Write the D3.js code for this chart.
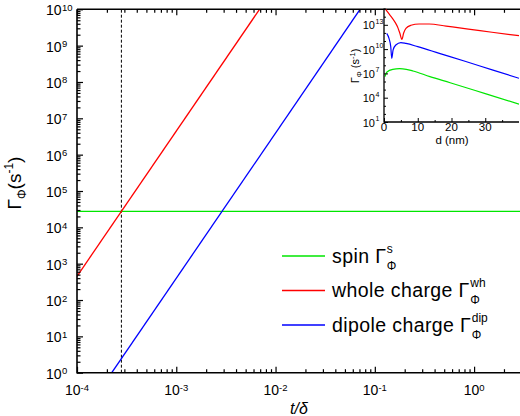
<!DOCTYPE html>
<html><head><meta charset="utf-8">
<script src="https://cdn.jsdelivr.net/npm/d3@7"></script>
<style>body{margin:0;background:#fff} svg text{font-family:"Liberation Sans",Arial,sans-serif;fill:#000}</style>
</head><body><svg id="c" width="520" height="416"></svg>
<script>
// ---- main chart data (t/δ, Γ in s^-1) ----
const tRed   = [1e-4, 6.9e-3];
const gRed   = [450, 1e10];
const tBlue  = [2.24e-4, 7.1e-2];
const gBlue  = [1, 1e10];
const tGreen = [1e-4, 2.9];
const gGreen = [2.75e4, 2.75e4];
const tCross = 2.8e-4;
const xTickExp = [-4, -3, -2, -1, 0];
const yTickExp = [0, 1, 2, 3, 4, 5, 6, 7, 8, 9, 10];
const legendNames = ["spin", "whole charge", "dipole charge"];
const legendSups  = ["s", "wh", "dip"];
const legendColors = ["#00e600", "#ff0000", "#0000ff"];

// ---- inset data (d in nm, Γ in s^-1) ----
const dRed  = [0.5, 1.5, 2.5, 3.3, 4.0, 4.7, 5.3, 5.8, 6.5, 8, 10.4, 13.4, 18.4, 25, 32, 40];
const vRed  = [7.9e14, 2.2e14, 6.3e13, 2e13, 5.9e12, 8.9e11, 1.6e11, 8.9e11, 3.7e12, 8.7e12, 1.26e13, 1.26e13, 6.8e12, 3e12, 1.2e12, 4.5e11];
const dBlue = [0.8, 1.5, 2.0, 2.3, 2.7, 3.5, 5, 6.5, 10, 16.4, 24, 32.3, 40];
const vBlue = [8.9e11, 2e11, 2e10, 7.2e8, 7.9e9, 3.2e10, 6.3e10, 5e10, 2e10, 3e9, 3.2e8, 2.5e7, 2.5e6];
const dGreen = [0.3, 0.8, 2.6, 4.6, 6.6, 8.6, 13.6, 19.6, 30, 40];
const vGreen = [4e6, 1.4e7, 3.2e7, 3.8e7, 3.2e7, 2e7, 4e6, 7.1e5, 3.2e4, 1.6e3];
const insetXTicks = [0, 10, 20, 30];
const insetXMinor = [5, 15, 25, 35];
const insetYTickExp = [1, 4, 7, 10, 13];

const svg = d3.select("#c");
const M = {l: 77, r: 520, t: 9.3, b: 372.7};
const x = d3.scaleLog().domain([1e-4, 2.9]).range([M.l, M.r]);
const y = d3.scaleLog().domain([1, 1e10]).range([M.b, M.t]);

function minors(lo, hi) {
  const out = [];
  for (let e = Math.floor(Math.log10(lo)); e <= Math.ceil(Math.log10(hi)); e++)
    for (let k = 2; k <= 9; k++) { const v = k * Math.pow(10, e); if (v >= lo && v <= hi) out.push(v); }
  return out;
}

svg.append("clipPath").attr("id", "cp").append("rect")
  .attr("x", M.l).attr("y", M.t).attr("width", M.r - M.l).attr("height", M.b - M.t);

const line = d3.line().x(d => x(d[0])).y(d => y(d[1]));
const gp = svg.append("g").attr("clip-path", "url(#cp)");
gp.append("line").attr("x1", x(tCross)).attr("x2", x(tCross)).attr("y1", y(1)).attr("y2", y(1e10))
  .attr("stroke", "#000").attr("stroke-width", 1).attr("stroke-dasharray", "3,2");
[[tGreen, gGreen, legendColors[0]], [tRed, gRed, legendColors[1]], [tBlue, gBlue, legendColors[2]]].forEach(([t, g, c]) => {
  gp.append("path").datum(d3.zip(t, g)).attr("d", line).attr("fill", "none").attr("stroke", c).attr("stroke-width", 1.3);
});

// axes
const xMaj = xTickExp.map(e => Math.pow(10, e));
const xMin = minors(1e-4, 2.9);
const yMaj = yTickExp.map(e => Math.pow(10, e));
const yMin = minors(1, 1e10);
function ax(gen, tr, vals, size) {
  const g = svg.append("g").attr("transform", tr)
    .call(gen.tickValues(vals).tickSize(size).tickSizeOuter(0).tickFormat(""));
  g.select(".domain").remove();
  g.selectAll("line").attr("stroke", "#000").attr("stroke-width", 1.2);
}
ax(d3.axisBottom(x), `translate(0,${M.b})`, xMaj, -6);
ax(d3.axisBottom(x), `translate(0,${M.b})`, xMin, -3.5);
ax(d3.axisTop(x), `translate(0,${M.t})`, xMaj, -6);
ax(d3.axisTop(x), `translate(0,${M.t})`, xMin, -3.5);
ax(d3.axisLeft(y), `translate(${M.l},0)`, yMaj, -6);
ax(d3.axisLeft(y), `translate(${M.l},0)`, yMin, -3.5);
svg.append("path").attr("d", `M${M.l},${M.t}H${M.r}M${M.l},${M.t}V${M.b}H${M.r}`)
  .attr("fill", "none").attr("stroke", "#000").attr("stroke-width", 1.6);

// x tick labels
xTickExp.forEach(e => {
  const t = svg.append("text").attr("x", x(Math.pow(10, e))).attr("y", 395).attr("text-anchor", "middle").attr("font-size", 14);
  t.append("tspan").text("10");
  t.append("tspan").attr("dy", -4).attr("font-size", 9.5).text(e === 0 ? "0" : "-" + Math.abs(e));
});
// y tick labels
yTickExp.forEach(e => {
  const yy = y(Math.pow(10, e));
  svg.append("text").attr("x", 61.5).attr("y", yy + 6).attr("text-anchor", "end").attr("font-size", 14).text("10");
  svg.append("text").attr("x", 62).attr("y", yy + 1.5).attr("font-size", 9.5).text(e);
});

// axis titles
const yl = svg.append("text").attr("transform", "translate(21,183) rotate(-90)").attr("text-anchor", "middle").attr("font-size", 19);
yl.append("tspan").text("Γ");
yl.append("tspan").attr("dy", 5).attr("font-size", 12).text("Φ");
yl.append("tspan").attr("dy", -5).text("(s");
yl.append("tspan").attr("dy", -8).attr("font-size", 12).text("-1");
yl.append("tspan").attr("dy", 8).text(")");
svg.append("text").attr("x", 299).attr("y", 414).attr("text-anchor", "middle").attr("font-size", 16)
  .attr("font-style", "italic").text("t/δ");

// legend
legendNames.forEach((n, i) => {
  const ly = 256 + i * 34.5;
  svg.append("line").attr("x1", 282).attr("x2", 325).attr("y1", ly).attr("y2", ly)
    .attr("stroke", legendColors[i]).attr("stroke-width", 1.3);
  const t = svg.append("text").attr("x", 332).attr("y", ly + 6.8).attr("font-size", 19.5)
    .attr("letter-spacing", 0.4).text(n + " Γ");
  const w = t.node().getComputedTextLength();
  svg.append("text").attr("x", 332 + w + 0.5).attr("y", ly - 3.5).attr("font-size", 12).text(legendSups[i]);
  svg.append("text").attr("x", 332 + w + 0.5).attr("y", ly + 13.5).attr("font-size", 12).text("Φ");
});

// ---- inset ----
const I = {l: 384, r: 519, t: 8.6, b: 122};
const xi = d3.scaleLinear().domain([0, 40]).range([I.l, I.r]);
const yi = d3.scaleLog().domain([10, 1e15]).range([I.b, I.t]);
svg.append("clipPath").attr("id", "ci").append("rect")
  .attr("x", I.l).attr("y", I.t).attr("width", I.r - I.l).attr("height", I.b - I.t);
const li = d3.line().x(d => xi(d[0])).y(d => yi(d[1])).curve(d3.curveMonotoneX);
const gi = svg.append("g").attr("clip-path", "url(#ci)");
[[dRed, vRed, legendColors[1]], [dBlue, vBlue, legendColors[2]], [dGreen, vGreen, legendColors[0]]].forEach(([d, v, c]) => {
  gi.append("path").datum(d3.zip(d, v)).attr("d", li).attr("fill", "none").attr("stroke", c).attr("stroke-width", 1.2);
});
const iyMaj = insetYTickExp.map(e => Math.pow(10, e));
const iyMin = d3.range(2, 16).filter(e => !insetYTickExp.includes(e)).map(e => Math.pow(10, e)).filter(v => v <= 1e15);
function axi(gen, tr, vals, size) {
  const g = svg.append("g").attr("transform", tr)
    .call(gen.tickValues(vals).tickSize(size).tickSizeOuter(0).tickFormat(""));
  g.select(".domain").remove();
  g.selectAll("line").attr("stroke", "#000").attr("stroke-width", 1);
}
axi(d3.axisLeft(yi), `translate(${I.l},0)`, iyMaj, -4);
axi(d3.axisLeft(yi), `translate(${I.l},0)`, iyMin, -2);
axi(d3.axisBottom(xi), `translate(0,${I.b})`, insetXTicks, -4);
axi(d3.axisBottom(xi), `translate(0,${I.b})`, insetXMinor, -2);
svg.append("path").attr("d", `M${I.l},${I.t}V${I.b}H${I.r}`).attr("fill", "none").attr("stroke", "#000").attr("stroke-width", 1.3);
insetYTickExp.forEach(e => {
  const yy = yi(Math.pow(10, e));
  svg.append("text").attr("x", 375).attr("y", yy + 4.5).attr("text-anchor", "end").attr("font-size", 11).text("10");
  svg.append("text").attr("x", 375.5).attr("y", yy - 1).attr("font-size", 7).text(e);
});
insetXTicks.forEach(v => {
  svg.append("text").attr("x", xi(v)).attr("y", 131).attr("text-anchor", "middle").attr("font-size", 11.5).text(v);
});
svg.append("text").attr("x", 452).attr("y", 143.5).attr("text-anchor", "middle").attr("font-size", 11.5).text("d (nm)");
const il = svg.append("text").attr("transform", "translate(359,66) rotate(-90)").attr("text-anchor", "middle").attr("font-size", 11);
il.append("tspan").text("Γ");
il.append("tspan").attr("dy", 3).attr("font-size", 7.5).text("Φ");
il.append("tspan").attr("dy", -3).text(" (s");
il.append("tspan").attr("dy", -4.5).attr("font-size", 7.5).text("-1");
il.append("tspan").attr("dy", 4.5).text(")");
</script></body></html>
